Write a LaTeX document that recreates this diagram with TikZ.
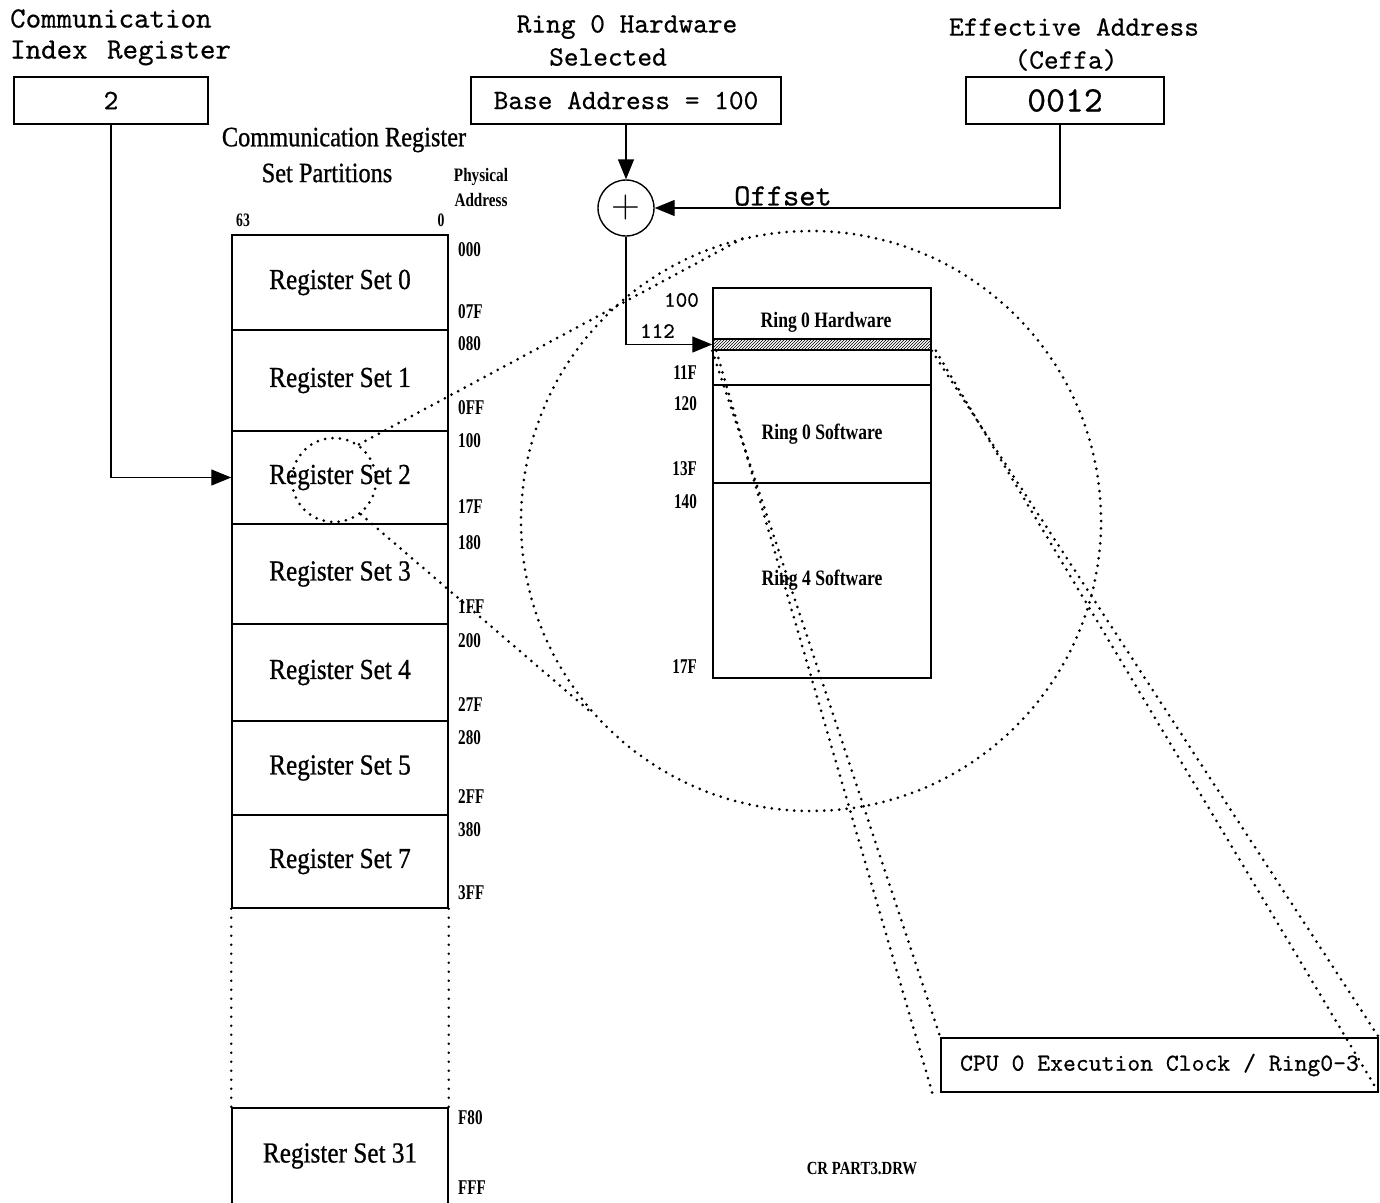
\documentclass[tikz,border=0pt]{standalone}
\usepackage{fontspec}
\usetikzlibrary{arrows.meta,patterns,calc}
\setmonofont[FakeBold=0.5]{lmmono10-regular.otf}
\newfontfamily\condf[FakeStretch=0.87,FakeBold=0.8]{Liberation Serif}
\newfontfamily\addrf[FakeStretch=0.72]{Liberation Serif}
\newfontfamily\ringf[FakeStretch=0.8]{Liberation Serif}
\tikzset{
 tt/.style={font=\ttfamily\fontsize{28}{31}\selectfont, inner sep=0pt},
 valbox/.style={draw, line width=1.5pt, inner sep=0pt, minimum height=47pt},
 reg/.style={draw, line width=1.5pt, inner sep=0pt, minimum width=216pt, font=\condf\fontsize{29}{31}\selectfont},
 addr/.style={anchor=west, inner sep=0pt, font=\addrf\bfseries\fontsize{21}{22}\selectfont},
 raddr/.style={anchor=east, inner sep=0pt, font=\addrf\bfseries\fontsize{21}{22}\selectfont},
 ringbox/.style={draw, line width=1.5pt, inner sep=0pt, minimum width=218pt, font=\ringf\bfseries\fontsize{22}{24}\selectfont},
 ringlab/.style={inner sep=0pt, font=\ringf\bfseries\fontsize{22}{24}\selectfont},
 dotl/.style={line width=3pt, dash pattern=on 0pt off 7.5pt, line cap=round},
 dotv/.style={line width=2.6pt, dash pattern=on 0pt off 9pt, line cap=round},
 arr/.style={line width=1.4pt, -{Triangle[length=20pt,width=16pt]}},
}
\begin{document}
\begin{tikzpicture}[x=1pt,y=-1pt]
\useasboundingbox (0,0) rectangle (1380,1202);

% top labels and value boxes
\node[tt, anchor=north west, align=left, font=\ttfamily\fontsize{29.5}{31}\selectfont] (cirlab) at (10,9) {Communication\\Index\hspace{4pt} Register};
\node[valbox, minimum width=194pt, font=\ttfamily\fontsize{28}{30}\selectfont] (cir) at (111,100.5) {2};
\node[tt] (selA) at (627,27) {Ring 0 Hardware};
\node[tt] (selB) at (608,57) {Selected};
\node[valbox, minimum width=310pt, font=\ttfamily\fontsize{28}{30}\selectfont] (base) at (626,100.5) {Base Address = 100};
\node[tt] (eaA) at (1074,27) {Effective Address};
\node[tt] (eaB) at (1066,60) {(Ceffa)};
\node[valbox, minimum width=198pt, font=\ttfamily\fontsize{36}{38}\selectfont] (ceffa) at (1065,100.5) {0012};
\node[circle, draw, line width=1.4pt, minimum size=56pt, inner sep=0pt, font=\fontsize{40}{40}\selectfont] (add) at (626,208) {+};
\node[tt, font=\ttfamily\fontsize{31}{33}\selectfont] (offlab) at (783,196) {Offset};

% register set column
\node[inner sep=0pt, font=\condf\fontsize{28}{30}\selectfont] (crt1) at (344,140) {Communication Register};
\node[inner sep=0pt, font=\condf\fontsize{28}{30}\selectfont] (crt2) at (327,173) {Set Partitions};
\node[inner sep=0pt, font=\ringf\bfseries\fontsize{19}{21}\selectfont] (phys1) at (481,177) {Physical};
\node[inner sep=0pt, font=\ringf\bfseries\fontsize{19}{21}\selectfont] (phys2) at (481,200) {Address};
\node[inner sep=0pt, font=\addrf\bfseries\fontsize{19}{21}\selectfont] (b63) at (243,220) {63};
\node[inner sep=0pt, font=\addrf\bfseries\fontsize{19}{21}\selectfont] (b0) at (441,220) {0};

\node[reg, minimum height=95pt] (rs0) at (340,282.5) {Register Set 0};
\node[reg, minimum height=101pt] (rs1) at (340,380.5) {Register Set 1};
\node[reg, minimum height=93pt] (rs2) at (340,477.5) {Register Set 2};
\node[reg, minimum height=100pt] (rs3) at (340,574) {Register Set 3};
\node[reg, minimum height=97pt] (rs4) at (340,672.5) {Register Set 4};
\node[reg, minimum height=94pt] (rs5) at (340,768) {Register Set 5};
\node[reg, minimum height=93pt] (rs7) at (340,861.5) {Register Set 7};
\node[reg, minimum height=96pt] (rs31) at (340,1156) {Register Set 31};
\draw[dotv] (rs7.south west) -- (rs31.north west);
\draw[dotv] (rs7.south east) -- (rs31.north east);

\foreach \t/\y in {000/250,07F/312,080/344,0FF/408,100/441,17F/507,180/543,1FF/607,200/641,27F/705,280/738,2FF/797,380/830,3FF/893,F80/1118,FFF/1188}
  \node[addr] (pa\t) at (458,\y) {\t};

% ring partition box
\node[ringbox, minimum height=97pt] (hw) at (822,336.5) {};
\node[ringbox, minimum height=98pt] (sw0) at (822,434) {Ring 0 Software};
\node[ringbox, minimum height=195pt] (sw4) at (822,580.5) {Ring 4 Software};
\node[ringbox, minimum height=11pt, pattern=north east lines] (strip) at (822,344.5) {};
\node[ringlab] (hwlab) at (826,322) {Ring 0 Hardware};
\node[anchor=east, inner sep=0pt, font=\ttfamily\fontsize{22}{24}\selectfont] (ra100) at (699,300) {100};
\node[anchor=east, inner sep=0pt, font=\ttfamily\fontsize{22}{24}\selectfont] (ra112) at (675,331) {112};
\node[raddr] (ra11F) at (697,373) {11F};
\node[raddr] (ra120) at (697,404) {120};
\node[raddr] (ra13F) at (697,469) {13F};
\node[raddr] (ra140) at (697,502) {140};
\node[raddr] (ra17F) at (697,667) {17F};

% zoom circles
\node[circle, draw, dotl, minimum size=580pt, inner sep=0pt] (zc) at (811,521) {};
\node[circle, draw, dotl, minimum size=84pt, inner sep=0pt] (sc) at (334,480) {};
\draw[dotl] (sc.55) -- (zc.103);
\draw[dotl] (sc.-52) -- (zc.221);

% CPU box
\node[valbox, minimum width=437pt, minimum height=54pt, font=\ttfamily\fontsize{24.5}{26}\selectfont] (cpu) at (1159.5,1065) {CPU 0 Execution Clock / Ring0-3};
\draw[dotl] (strip.south west) -- (cpu.north west);
\draw[dotl] ([xshift=4pt]strip.south west) -- ([xshift=-8pt]cpu.south west);
\draw[dotl] (strip.south east) -- (cpu.north east);
\draw[dotl] ([xshift=4pt]strip.south east) -- (cpu.south east);

\node[inner sep=0pt, font=\ringf\bfseries\fontsize{18.5}{20}\selectfont] (fname) at (862,1168) {CR PART3.DRW};

% connectors
\draw[arr] (cir.south) |- (rs2.west);
\draw[arr] (base.south) -- (add.north);
\draw[arr] ([xshift=-5pt]ceffa.south) |- (add.east);
\draw[arr] (add.south) |- (strip.west);
\end{tikzpicture}
\end{document}
